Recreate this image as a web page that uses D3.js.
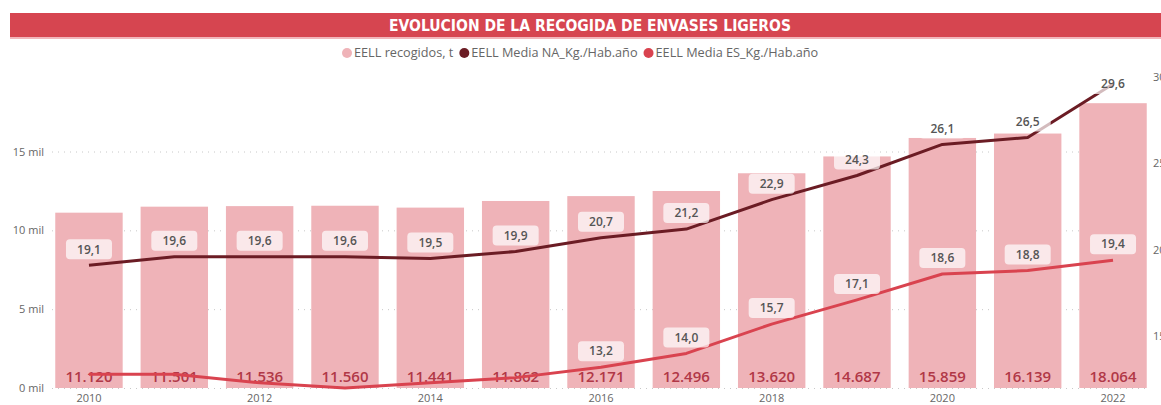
<!DOCTYPE html>
<html>
<head>
<meta charset="utf-8">
<script src="https://d3js.org/d3.v7.min.js"></script>
<style>
  body { margin: 0; background: #fff; overflow: hidden; }
  text { font-family: "Open Sans", "Noto Sans", sans-serif; }
</style>
</head>
<body>
<div id="chart"></div>
<script>
// data
var years = [2010, 2011, 2012, 2013, 2014, 2015, 2016, 2017, 2018, 2019, 2020, 2021, 2022];
var recogidos = [11120, 11501, 11536, 11560, 11441, 11862, 12171, 12496, 13620, 14687, 15859, 16139, 18064];
var mediaNA = [19.1, 19.6, 19.6, 19.6, 19.5, 19.9, 20.7, 21.2, 22.9, 24.3, 26.1, 26.5, 29.6];
var mediaES = [12.8, 12.8, 12.3, 12.0, 12.3, 12.6, 13.2, 14.0, 15.7, 17.1, 18.6, 18.8, 19.4];
var leftTicks = [0, 5000, 10000, 15000];
var rightTicks = [15, 20, 25, 30];
var xTickYears = [2010, 2012, 2014, 2016, 2018, 2020, 2022];
var seriesNames = ["EELL recogidos, t", "EELL Media NA_Kg./Hab.año", "EELL Media ES_Kg./Hab.año"];
var title = "EVOLUCION DE LA RECOGIDA DE ENVASES LIGEROS";

var W = 1161, H = 405;
var colBar = "#efb3b8", colNA = "#6b1c24", colES = "#d9434f";

var es = d3.formatLocale({ decimal: ",", thousands: ".", grouping: [3], currency: ["", " €"] });
var fmtInt = es.format(",.0f"), fmt1 = es.format(".1f");

var svg = d3.select("#chart").append("svg")
    .attr("width", W).attr("height", H);

// title band
svg.append("rect").attr("x", 10).attr("y", 13).attr("width", W - 10).attr("height", 24).attr("fill", "#d64550");
svg.append("rect").attr("x", 10).attr("y", 37).attr("width", W - 10).attr("height", 2).attr("fill", "#f2b6bb");
svg.append("text")
    .attr("x", 590).attr("y", 30.5)
    .attr("text-anchor", "middle")
    .style("font-family", "'Liberation Sans Narrow', 'DejaVu Sans Condensed', sans-serif")
    .style("font-weight", "bold").style("font-size", "15.5px")
    .attr("fill", "#fff")
    .text(title);

// scales
var x = d3.scaleBand().domain(years).range([46.3, 1155.7]).paddingInner(0.21).paddingOuter(0.105);
var yL = d3.scaleLinear().domain([0, 15000]).range([388, 151.5]);
var yR = d3.scaleLinear().domain([12, 30]).range([388, 77]);

// grid
svg.append("g").selectAll("line").data(leftTicks).enter().append("line")
    .attr("x1", 52).attr("x2", 1150)
    .attr("y1", function (d) { return yL(d) + 0.5; })
    .attr("y2", function (d) { return yL(d) + 0.5; })
    .attr("stroke", "#c8c8c8").attr("stroke-dasharray", "1,5");

// left axis
var axL = svg.append("g").attr("transform", "translate(48,0)")
    .call(d3.axisLeft(yL).tickValues(leftTicks).tickSize(0).tickPadding(4)
        .tickFormat(function (d) { return (d / 1000) + " mil"; }));
axL.select(".domain").remove();
axL.selectAll("text").attr("fill", "#666").style("font-size", "11px");

// right axis (cut by the window edge, as in the original)
var axR = svg.append("g").attr("transform", "translate(1149,0)")
    .call(d3.axisRight(yR).tickValues(rightTicks).tickSize(0).tickPadding(4));
axR.select(".domain").remove();
axR.selectAll("text").attr("fill", "#666").style("font-size", "11px");

// bottom axis
var axB = svg.append("g").attr("transform", "translate(0,388)")
    .call(d3.axisBottom(x).tickValues(xTickYears).tickSize(0).tickPadding(6));
axB.select(".domain").remove();
axB.selectAll("text").attr("fill", "#666").style("font-size", "11px");

// bars
svg.append("g").selectAll("rect").data(recogidos).enter().append("rect")
    .attr("x", function (d, i) { return x(years[i]); })
    .attr("width", x.bandwidth())
    .attr("y", function (d) { return yL(d); })
    .attr("height", function (d) { return yL(0) - yL(d); })
    .attr("fill", colBar);

var cx = function (i) { return x(years[i]) + x.bandwidth() / 2; };

// bar value labels
svg.append("g").selectAll("text").data(recogidos).enter().append("text")
    .attr("x", function (d, i) { return cx(i); })
    .attr("y", 381.5)
    .attr("text-anchor", "middle")
    .style("font-size", "15px").style("font-weight", "600")
    .attr("fill", "#b13847")
    .text(function (d) { return fmtInt(d); });

// lines
function drawLine(vals, col) {
    var line = d3.line()
        .x(function (d, i) { return cx(i); })
        .y(function (d) { return yR(d); });
    svg.append("path").datum(vals)
        .attr("d", line)
        .attr("fill", "none")
        .attr("stroke", col)
        .attr("stroke-width", 3)
        .attr("stroke-linejoin", "round");
}
drawLine(mediaES, colES);
drawLine(mediaNA, colNA);

// line labels
function drawLabels(vals) {
    var g = svg.append("g");
    vals.forEach(function (v, i) {
        var cy = yR(v) - 16;
        if (cy > 356) return;           // hidden behind the bar labels
        if (cy < 76) cy = yR(v);         // no room above: sit on the point
        var lg = g.append("g").attr("transform", "translate(" + cx(i) + "," + cy + ")");
        lg.append("rect")
            .attr("x", -23).attr("y", -10).attr("width", 46).attr("height", 20).attr("rx", 4)
            .attr("fill", "#fff").attr("fill-opacity", 0.7);
        lg.append("text")
            .attr("text-anchor", "middle").attr("dy", "0.35em")
            .style("font-size", "12px").style("font-weight", "600")
            .attr("fill", "#555")
            .text(fmt1(v));
    });
}
drawLabels(mediaES);
drawLabels(mediaNA);

// legend
var legend = svg.append("g").attr("transform", "translate(0,53)");
var colors = [colBar, colNA, colES];
var lx = 342;
seriesNames.forEach(function (name, i) {
    legend.append("circle").attr("cx", lx + 5).attr("cy", 0).attr("r", 5).attr("fill", colors[i]);
    var t = legend.append("text").attr("x", lx + 12).attr("y", 0).attr("dy", "0.35em")
        .style("font-size", "12.7px").attr("fill", "#666").text(name);
    lx += 12 + t.node().getComputedTextLength() + 6;
});
</script>
</body>
</html>
